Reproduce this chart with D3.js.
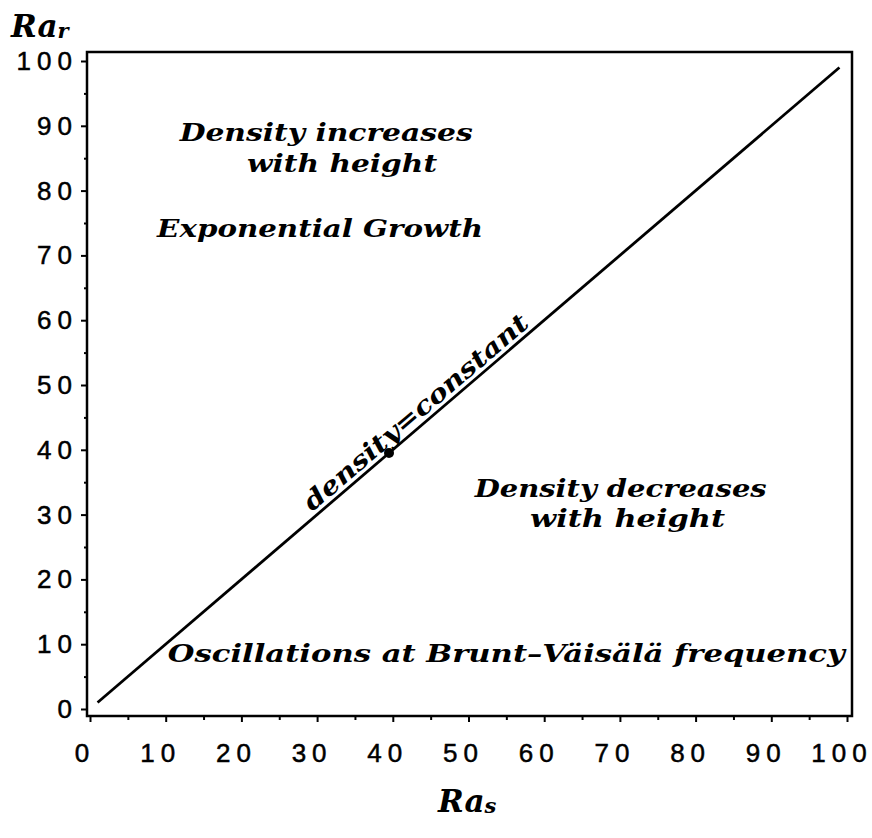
<!DOCTYPE html>
<html>
<head>
    <meta charset="utf-8">
    <title>Ra_r vs Ra_s</title>
    <script src="https://cdn.jsdelivr.net/npm/d3@7"></script>
    <style type="text/css">
        body { margin: 0; background: #fff; }
        .tick-label { font-family: "Liberation Sans", Arial, sans-serif; font-size: 26px; letter-spacing: 6px; fill: #000; stroke: #000; stroke-width: 0.5px; }
        .note { font-family: "DejaVu Serif", serif; font-style: italic; font-weight: bold; font-size: 25px; fill: #000; }
        .axis-title { font-family: "DejaVu Serif", serif; font-style: italic; font-weight: bold; font-size: 31px; fill: #000; }
    </style>
</head>
<body>
<svg id="chart" width="872" height="838"></svg>

<script type="text/javascript">
    // tick values on both axes
    var majorTicks = [0, 10, 20, 30, 40, 50, 60, 70, 80, 90, 100];
    var minorTicks = [5, 15, 25, 35, 45, 55, 65, 75, 85, 95];

    // the "density = constant" line Ra_r = Ra_s
    var lineRaS = [1, 99];
    var lineRaR = [1, 99];

    // single marked point on the line
    var pointRaS = [39.5];
    var pointRaR = [39.5];

    // text notes: text, data x, data y (baseline), width in px
    var noteText = ["Density increases", "with height", "Exponential Growth",
        "Density decreases", "with height", "Oscillations at Brunt\u2013V\u00e4is\u00e4l\u00e4 frequency"];
    var noteX = [31.2, 33.3, 30.4, 70.1, 71.0, 55.0];
    var noteY = [87.6, 82.9, 72.8, 32.7, 28.1, 7.3];
    var noteW = [293, 190, 326, 292, 195, 677];

    var svg = d3.select("#chart");

    var x = d3.scaleLinear().domain([0, 100]).range([90, 847]);
    var y = d3.scaleLinear().domain([0, 100]).range([709, 61]);

    // frame
    var frame = {left: 87, right: 852, top: 52, bottom: 716};
    svg.append("rect")
        .attr("x", frame.left).attr("y", frame.top)
        .attr("width", frame.right - frame.left)
        .attr("height", frame.bottom - frame.top)
        .attr("fill", "none").attr("stroke", "#000").attr("stroke-width", 2.5);

    // bottom axis ticks
    var xAxis = svg.append("g").attr("transform", "translate(0," + frame.bottom + ")");
    xAxis.call(d3.axisBottom(x).tickValues(majorTicks).tickSize(6).tickFormat(""));
    xAxis.append("g").call(d3.axisBottom(x).tickValues(minorTicks).tickSize(4).tickFormat(""));
    xAxis.selectAll(".domain").remove();
    xAxis.selectAll("line").attr("stroke", "#000").attr("stroke-width", 2);

    xAxis.selectAll(".xlab")
        .data(majorTicks)
        .enter().append("text")
        .attr("class", "tick-label")
        .attr("x", function (d) { return x(d) - 5; })
        .attr("y", 46)
        .attr("text-anchor", "middle")
        .text(function (d) { return d; });

    // left axis ticks
    var yAxis = svg.append("g").attr("transform", "translate(" + frame.left + ",0)");
    yAxis.call(d3.axisLeft(y).tickValues(majorTicks).tickSize(6).tickFormat(""));
    yAxis.append("g").call(d3.axisLeft(y).tickValues(minorTicks).tickSize(3).tickFormat(""));
    yAxis.selectAll(".domain").remove();
    yAxis.selectAll("line").attr("stroke", "#000").attr("stroke-width", 2);

    yAxis.selectAll(".ylab")
        .data(majorTicks)
        .enter().append("text")
        .attr("class", "tick-label")
        .attr("x", -9)
        .attr("y", function (d) { return y(d) + 9; })
        .attr("text-anchor", "end")
        .text(function (d) { return d; });

    // diagonal line
    var line = d3.line()
        .x(function (d) { return x(d[0]); })
        .y(function (d) { return y(d[1]); });
    svg.append("path")
        .datum(d3.zip(lineRaS, lineRaR))
        .attr("d", line)
        .attr("fill", "none").attr("stroke", "#000").attr("stroke-width", 2.8);

    svg.selectAll(".pt")
        .data(d3.zip(pointRaS, pointRaR))
        .enter().append("circle")
        .attr("cx", function (d) { return x(d[0]); })
        .attr("cy", function (d) { return y(d[1]); })
        .attr("r", 5).attr("fill", "#000");

    // notes
    svg.selectAll(".note")
        .data(d3.range(noteText.length))
        .enter().append("text")
        .attr("class", "note")
        .attr("x", function (i) { return x(noteX[i]); })
        .attr("y", function (i) { return y(noteY[i]); })
        .attr("text-anchor", "middle")
        .attr("textLength", function (i) { return noteW[i]; })
        .attr("lengthAdjust", "spacingAndGlyphs")
        .text(function (i) { return noteText[i]; });

    // label along the line
    var angle = Math.atan2(y(0) - y(100), x(100) - x(0)) * 180 / Math.PI;
    var t0 = 29.8;
    svg.append("text")
        .attr("class", "note")
        .attr("transform", "translate(" + x(t0) + "," + y(t0) + ") rotate(" + (-angle) + ")")
        .attr("y", -5)
        .attr("textLength", 287)
        .attr("lengthAdjust", "spacingAndGlyphs")
        .text("density=constant");

    // axis titles
    var yt = svg.append("text").attr("class", "axis-title").attr("x", 11).attr("y", 37);
    yt.append("tspan").text("Ra");
    yt.append("tspan").attr("font-size", "21px").attr("dy", 1).text("r");

    var xt = svg.append("text").attr("class", "axis-title").attr("x", 438).attr("y", 812);
    xt.append("tspan").text("Ra");
    xt.append("tspan").attr("font-size", "21px").attr("dy", 1).text("s");
</script>
</body>
</html>
